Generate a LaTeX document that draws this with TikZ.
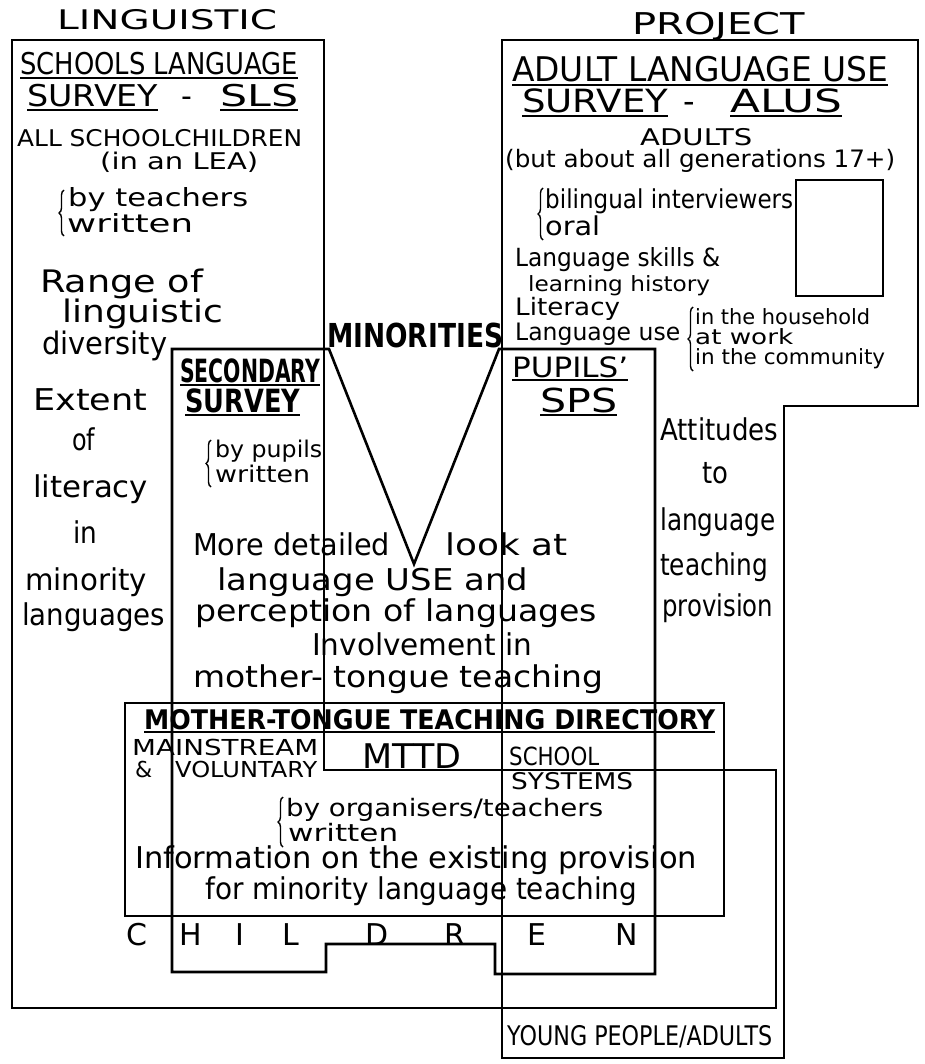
\documentclass[tikz,border=0pt]{standalone}
\usepackage{fontspec}
\setmainfont{DejaVu Sans}
\usepackage{graphicx}
\usetikzlibrary{decorations.pathreplacing}

\newcommand{\fs}[1]{\fontsize{#1}{#1}\selectfont}
\newcommand{\hw}[2]{\resizebox{#1pt}{\height}{#2}}
\newcommand{\undl}[1]{\setbox0=\hbox{#1}\rlap{\rule[-4pt]{\wd0}{1.8pt}}\box0}

\tikzset{
    region/.style={draw, line width=2.6pt},
    txt/.style={anchor=base west, inner sep=0pt},
    letter/.style={anchor=base, inner sep=0pt, font=\fs{30}},
    curly/.style={decorate, decoration={brace, amplitude=5pt}, line width=1.4pt},
}

\begin{document}
\begin{tikzpicture}[x=1pt, y=-1pt]
            \useasboundingbox (0,0) rectangle (924,1064);

            \draw[region] (12,40) -- (324,40) -- (324,770) -- (776,770) -- (776,1008) -- (12,1008) -- cycle;
            \draw[region] (502,40) -- (918,40) -- (918,406) -- (784,406) -- (784,1058) -- (502,1058) -- cycle;
            \draw[region] (172,349) -- (329,349) -- (414,564) -- (499,349) -- (655,349) -- (655,974)
                -- (495,974) -- (495,944) -- (326,944) -- (326,972) -- (172,972) -- cycle;
            \draw[region] (125,703) rectangle (724,916);
            \draw[region] (796,180) rectangle (883,296);

            \node[txt, font=\fs{27}] (ttlLing) at (57,30) {\hw{220}{LINGUISTIC}};
            \node[txt, font=\fs{30}] (ttlProj) at (632,35) {\hw{173}{PROJECT}};

            \node[txt, font=\fs{30}] (slsHead) at (20,75) {\hw{278}{\undl{SCHOOLS LANGUAGE}}};
            \node[txt, font=\fs{30}] (slsSurvey) at (27,107) {\hw{131}{\undl{SURVEY}}};
            \node[txt, font=\fs{30}] (slsDash) at (181,107) {-};
            \node[txt, font=\fs{30}] (slsAbbr) at (220,107) {\hw{78}{\undl{SLS}}};
            \node[txt, font=\fs{23}] (slsWho) at (17,147) {\hw{285}{ALL SCHOOLCHILDREN}};
            \node[txt, font=\fs{23}] (slsLea) at (100,170) {\hw{158}{(in an LEA)}};
            \draw[curly] (64,236) -- (64,190);
            \node[txt, font=\fs{25}] (slsBy) at (68,207) {\hw{180}{by teachers}};
            \node[txt, font=\fs{25}] (slsWritten) at (67,233) {\hw{126}{written}};
            \node[txt, font=\fs{31}] (slsRange) at (40,293) {\hw{163}{Range of}};
            \node[txt, font=\fs{31}] (slsLing) at (62,322) {\hw{161}{linguistic}};
            \node[txt, font=\fs{31}] (slsDiv) at (42,354) {\hw{125}{diversity}};
            \node[txt, font=\fs{30}] (slsExtent) at (33,410) {\hw{114}{Extent}};
            \node[txt, font=\fs{30}] (slsOf) at (72,450) {\hw{23}{of}};
            \node[txt, font=\fs{30}] (slsLit) at (33,497) {\hw{115}{literacy}};
            \node[txt, font=\fs{30}] (slsIn) at (73,543) {\hw{24}{in}};
            \node[txt, font=\fs{30}] (slsMin) at (25,590) {\hw{122}{minority}};
            \node[txt, font=\fs{30}] (slsLang) at (22,625) {\hw{143}{languages}};

            \node[txt, font=\fs{34}] (alusHead) at (512,82) {\hw{376}{\undl{ADULT LANGUAGE USE}}};
            \node[txt, font=\fs{32}] (alusSurvey) at (522,113) {\hw{146}{\undl{SURVEY}}};
            \node[txt, font=\fs{32}] (alusDash) at (683,113) {-};
            \node[txt, font=\fs{32}] (alusAbbr) at (730,113) {\hw{112}{\undl{ALUS}}};
            \node[txt, font=\fs{23}] (alusWho) at (640,146) {\hw{112}{ADULTS}};
            \node[txt, font=\fs{24}] (alusGen) at (505,168) {\hw{390}{(but about all generations 17+)}};
            \draw[curly] (543,240) -- (543,188);
            \node[txt, font=\fs{26}] (alusBy) at (545,209) {\hw{248}{bilingual interviewers}};
            \node[txt, font=\fs{26}] (alusOral) at (545,236) {\hw{55}{oral}};
            \node[txt, font=\fs{25}] (alusSkills) at (515,266) {\hw{205}{Language skills \&}};
            \node[txt, font=\fs{21}] (alusHist) at (528,291) {\hw{182}{learning history}};
            \node[txt, font=\fs{24}] (alusLit) at (515,315) {\hw{105}{Literacy}};
            \node[txt, font=\fs{24}] (alusUse) at (515,340) {\hw{165}{Language use}};
            \draw[curly] (693,371) -- (693,307);
            \node[txt, font=\fs{21}] (alusHouse) at (695,324) {\hw{175}{in the household}};
            \node[txt, font=\fs{21}] (alusWork) at (695,344) {\hw{98}{at work}};
            \node[txt, font=\fs{21}] (alusComm) at (695,364) {\hw{190}{in the community}};

            \node[txt, font=\fs{28}] (spsHead) at (512,377) {\hw{116}{\undl{PUPILS’}}};
            \node[txt, font=\fs{33}] (spsAbbr) at (540,412) {\hw{77}{\undl{SPS}}};
            \node[txt, font=\fs{30}] (attA) at (660,440) {\hw{118}{Attitudes}};
            \node[txt, font=\fs{30}] (attB) at (702,483) {\hw{26}{to}};
            \node[txt, font=\fs{30}] (attC) at (660,530) {\hw{115}{language}};
            \node[txt, font=\fs{30}] (attD) at (660,575) {\hw{108}{teaching}};
            \node[txt, font=\fs{30}] (attE) at (662,616) {\hw{111}{provision}};

            \node[txt, font=\bfseries\fs{32}] (secHead) at (180,382) {\hw{140}{\undl{SECONDARY}}};
            \node[txt, font=\bfseries\fs{32}] (secSurvey) at (185,412) {\hw{115}{\undl{SURVEY}}};
            \draw[curly] (211,487) -- (211,440);
            \node[txt, font=\fs{23}] (secBy) at (215,457) {\hw{107}{by pupils}};
            \node[txt, font=\fs{23}] (secWritten) at (215,482) {\hw{95}{written}};
            \node[txt, font=\bfseries\fs{33}] (minor) at (327,347) {\hw{176}{MINORITIES}};

            \node[txt, font=\fs{30}] (detA) at (193,555) {\hw{197}{More detailed}};
            \node[txt, font=\fs{30}] (detB) at (445,555) {\hw{122}{look at}};
            \node[txt, font=\fs{30}] (detC) at (217,590) {\hw{311}{language USE and}};
            \node[txt, font=\fs{30}] (detD) at (195,621) {\hw{402}{perception of languages}};
            \node[txt, font=\fs{30}] (detE) at (312,655) {\hw{220}{Involvement in}};
            \node[txt, font=\fs{30}] (detF) at (193,687) {\hw{410}{mother- tongue teaching}};

            \node[txt, font=\bfseries\fs{27}] (mttdHead) at (144,729) {\hw{571}{\undl{MOTHER-TONGUE TEACHING DIRECTORY}}};
            \node[txt, font=\fs{22}] (mttdMain) at (132,755) {\hw{186}{MAINSTREAM}};
            \node[txt, font=\fs{22}] (mttdAnd) at (135,777) {\&};
            \node[txt, font=\fs{22}] (mttdVol) at (175,777) {\hw{142}{VOLUNTARY}};
            \node[txt, font=\fs{34}] (mttdAbbr) at (362,768) {\hw{99}{MTTD}};
            \node[txt, font=\fs{25}] (mttdSchool) at (509,765) {\hw{90}{SCHOOL}};
            \node[txt, font=\fs{23}] (mttdSys) at (511,789) {\hw{122}{SYSTEMS}};
            \draw[curly] (283,847) -- (283,797);
            \node[txt, font=\fs{24}] (mttdBy) at (286,816) {\hw{317}{by organisers/teachers}};
            \node[txt, font=\fs{24}] (mttdWritten) at (288,841) {\hw{110}{written}};
            \node[txt, font=\fs{30}] (mttdInfo) at (135,868) {\hw{562}{Information on the existing provision}};
            \node[txt, font=\fs{30}] (mttdFor) at (205,899) {\hw{432}{for minority language teaching}};

            \node[letter] (chC) at (137,945) {C};
            \node[letter] (chH) at (191,945) {H};
            \node[letter] (chI) at (240,945) {I};
            \node[letter] (chL) at (291,945) {L};
            \node[letter] (chD) at (377,945) {D};
            \node[letter] (chR) at (455,945) {R};
            \node[letter] (chE) at (537,945) {E};
            \node[letter] (chN) at (627,945) {N};

            \node[txt, font=\fs{27}] (young) at (507,1045) {\hw{265}{YOUNG PEOPLE/ADULTS}};
\end{tikzpicture}
\end{document}
